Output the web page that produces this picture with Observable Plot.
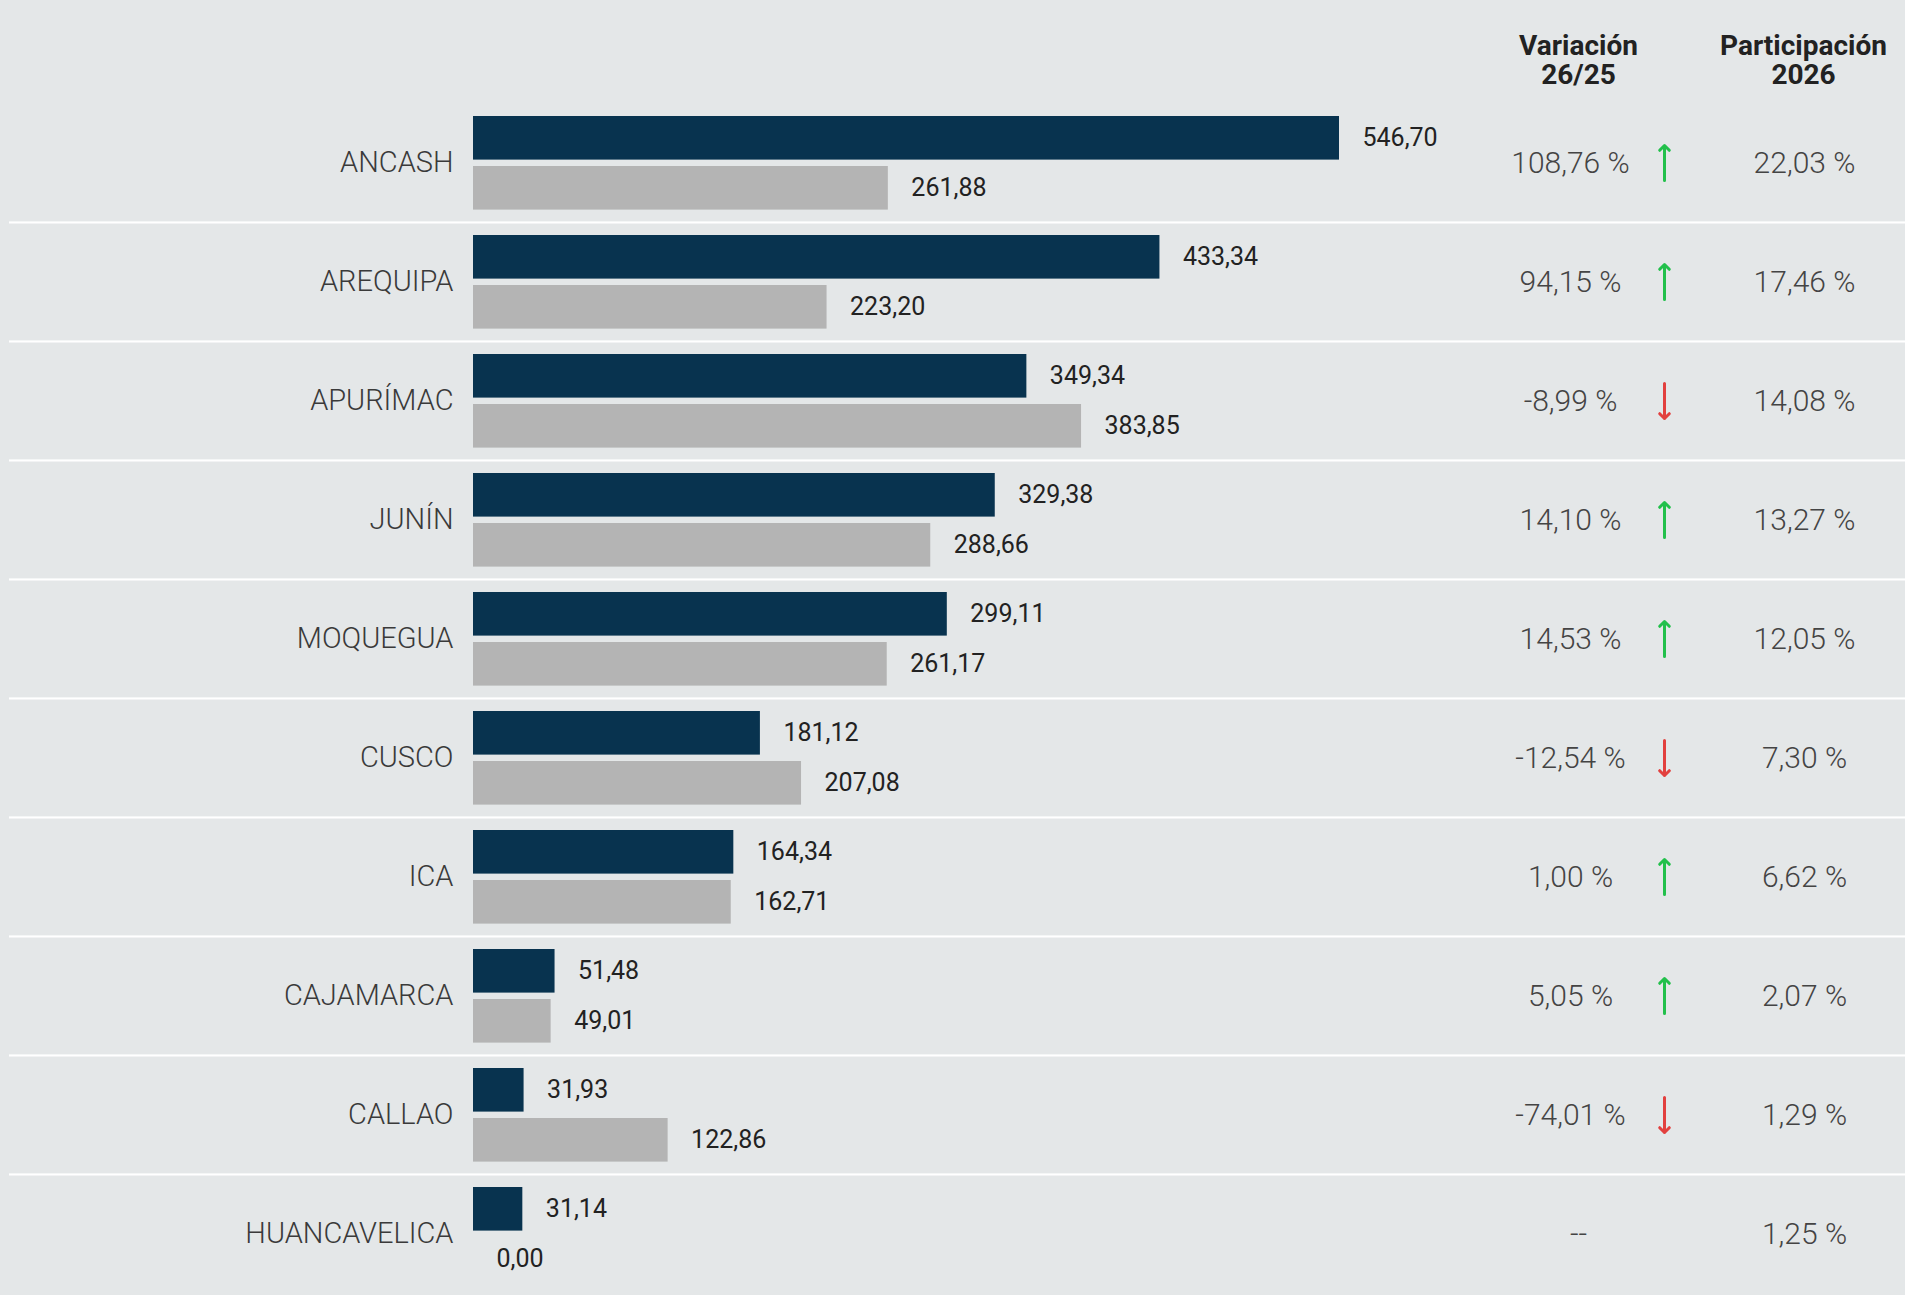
<!DOCTYPE html>
<html>
<head>
<meta charset="utf-8">
<script src="https://cdn.jsdelivr.net/npm/d3@7"></script>
<script src="https://cdn.jsdelivr.net/npm/@observablehq/plot@0.6"></script>
<style>
  html, body { margin: 0; padding: 0; background: #e4e7e8; }
  #chart svg { display: block; }
</style>
</head>
<body>
<div id="chart"></div>
<script>
const regions = ["ANCASH", "AREQUIPA", "APURÍMAC", "JUNÍN", "MOQUEGUA", "CUSCO", "ICA", "CAJAMARCA", "CALLAO", "HUANCAVELICA"];
const values2026 = [546.70, 433.34, 349.34, 329.38, 299.11, 181.12, 164.34, 51.48, 31.93, 31.14];
const values2025 = [261.88, 223.20, 383.85, 288.66, 261.17, 207.08, 162.71, 49.01, 122.86, 0.00];
const variation = [108.76, 94.15, -8.99, 14.10, 14.53, -12.54, 1.00, 5.05, -74.01, null];
const share2026 = [22.03, 17.46, 14.08, 13.27, 12.05, 7.30, 6.62, 2.07, 1.29, 1.25];
const headers = ["Variación\n26/25", "Participación\n2026"];

const W = 1905, H = 1295, TOP = 101;
const bw = (H - TOP) / regions.length;
const fmt = (v) => v.toFixed(2).replace(".", ",");

const rows = regions.map((r, i) => ({
  region: r, v26: values2026[i], v25: values2025[i],
  variation: variation[i], share: share2026[i]
}));
const withVar = rows.filter(d => d.variation !== null);
const noVar = rows.filter(d => d.variation === null);

const FONT = "Roboto, 'Noto Sans', sans-serif";

const chart = Plot.plot({
  width: W,
  height: H,
  marginTop: TOP,
  marginBottom: 0,
  marginLeft: 9,
  marginRight: 0,
  style: { fontFamily: FONT, background: "#e4e7e8" },
  x: { domain: [0, d3.max(values2026)], range: [473, 1339], axis: null },
  y: { domain: regions, padding: 0, axis: null },
  marks: [
    // row separators
    Plot.cell(regions.slice(0, -1), { y: d => d, fill: "#ffffff", insetTop: bw - 1, insetBottom: -1.5 }),
    // bars 2026
    Plot.barX(rows, { y: "region", x1: () => 0, x2: "v26", fill: "#08334f", insetTop: 13, insetBottom: bw - 57 }),
    // bars 2025
    Plot.barX(rows, { y: "region", x1: () => 0, x2: "v25", fill: "#b4b4b4", insetTop: 63, insetBottom: bw - 107 }),
    // value labels
    Plot.text(rows, { y: "region", x: "v26", text: d => fmt(d.v26), dx: 23, dy: -25, textAnchor: "start", fontSize: 25, fill: "#222", lineAnchor: "middle" }),
    Plot.text(rows, { y: "region", x: "v25", text: d => fmt(d.v25), dx: 23, dy: 25, textAnchor: "start", fontSize: 25, fill: "#222", lineAnchor: "middle" }),
    // region labels
    Plot.text(rows, { y: "region", x: () => 0, text: "region", dx: -20, textAnchor: "end", fontSize: 29, fontWeight: 300, fill: "#3a3a3a", lineAnchor: "middle" }),
    // variation column
    Plot.text(withVar, { y: "region", frameAnchor: "right", dx: -335, text: d => fmt(d.variation) + " %", textAnchor: "middle", fontSize: 30, fontWeight: 300, fill: "#444", lineAnchor: "middle" }),
    Plot.text(noVar, { y: "region", frameAnchor: "right", dx: -327, text: () => "--", textAnchor: "middle", fontSize: 30, fontWeight: 300, fill: "#444", lineAnchor: "middle" }),
    Plot.vector(withVar, { y: "region", frameAnchor: "right", dx: -241, length: 35, r: 2.4, rotate: d => d.variation >= 0 ? 0 : 180, stroke: d => d.variation >= 0 ? "#22c04b" : "#e2403e", strokeWidth: 3 }),
    // share column
    Plot.text(rows, { y: "region", frameAnchor: "right", dx: -101, text: d => fmt(d.share) + " %", textAnchor: "middle", fontSize: 30, fontWeight: 300, fill: "#444", lineAnchor: "middle" }),
    // headers
    Plot.text([headers[0]], { frameAnchor: "top-right", dx: -327, dy: -41, text: d => d, textAnchor: "middle", lineAnchor: "middle", fontSize: 28, fontWeight: 700, fill: "#222", lineHeight: 1.02 }),
    Plot.text([headers[1]], { frameAnchor: "top-right", dx: -102, dy: -41, text: d => d, textAnchor: "middle", lineAnchor: "middle", fontSize: 28, fontWeight: 700, fill: "#222", lineHeight: 1.02 })
  ]
});
document.getElementById("chart").appendChild(chart);
</script>
</body>
</html>
